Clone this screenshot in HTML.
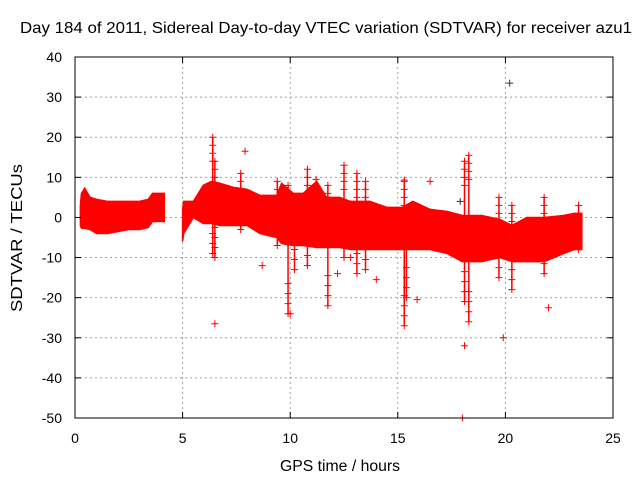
<!DOCTYPE html>
<html><head><meta charset="utf-8"><style>
body{margin:0;background:#fff}
svg text{font-family:"Liberation Sans",sans-serif;font-size:14px;fill:#000}
</style></head><body>
<svg id="chart" width="640" height="480" xmlns="http://www.w3.org/2000/svg">
<rect width="640" height="480" fill="#fff"/>
<g id="grid"></g>
<g id="data"></g>
<g id="axes"></g>
<text x="326" y="33" text-anchor="middle" textLength="612" lengthAdjust="spacingAndGlyphs" style="font-size:16px">Day 184 of 2011, Sidereal Day-to-day VTEC variation (SDTVAR) for receiver azu1</text>
<text x="340" y="471" text-anchor="middle" textLength="120" lengthAdjust="spacingAndGlyphs" style="font-size:15.5px">GPS time / hours</text>
<text x="0" y="0" text-anchor="middle" textLength="148" lengthAdjust="spacingAndGlyphs" transform="translate(22,238) rotate(-90)" style="font-size:15.5px">SDTVAR / TECUs</text>
</svg>
<script>
const xTicks=[0,5,10,15,20,25];
const yTicks=[40,30,20,10,0,-10,-20,-30,-40,-50];
const seg1T=[0.25,0.3,0.45,0.7,1.0,1.5,2.0,2.5,3.0,3.4,3.6,4.0,4.15];
const seg1Hi=[3,6,7.3,5,4.5,4,4,4,4,4.5,6,6,6];
const seg1Lo=[-2,-2.7,-2.7,-3,-4,-4,-3.5,-3,-3,-2.5,-1,-1,-1];
const seg2T=[5.0,5.05,5.5,5.96,6.35,6.74,7.36,8.0,8.6,9.37,9.6,10.14,10.6,11.23,11.69,12.3,12.8,13.7,14.5,15.2,15.7,16.5,17.3,18.0,18.9,19.75,20.3,21.0,21.8,22.7,23.2,23.55];
const seg2Hi=[2,4,4,8,9,8.5,7.5,7,5.5,5.5,8.5,6,6,9,5,5,4,4,2.5,2.5,4,2,1.5,0.5,0.5,-0.5,-2,0,0,0.5,1,1];
const seg2Lo=[-6,-4,0,-1.5,-1.5,-2,-2,-2,-4,-5,-6.5,-7,-7,-7.5,-7.5,-7.5,-8,-8,-8,-8,-8,-8,-9,-11,-11,-10,-11,-11,-11,-9,-8,-8];
const spikeT=[6.4,6.5,7.7,9.4,9.9,10.2,10.8,11.75,12.5,13.1,13.5,15.3,15.4,18.1,18.3,19.7,20.3,21.8,23.4];
const spikeHi=[20,14,11,9,8,5,12,8,13,11,9,9,2,14,15.5,5,3,5,3];
const spikeLo=[-9,-10,-3,-7,-24,-13,-12,-22,-10,-14,-13,-27,-20,-21,-26,-15,-18,-14,-8];
const outT=[6.5,7.9,8.7,12.2,14.0,15.9,18.0,18.1,19.9,22.0,10.0,11.2,12.8,15.3,16.5];
const outV=[-26.5,16.5,-12,-14,-15.5,-20.5,-50,-32,-30,-22.5,-24,9.5,-10,9.3,9];
const blackT=[17.9,20.2];
const blackV=[4,33.5];

const X0=75,X1=613,Y0=57,Y1=418;
const xs=t=>X0+(t-0)/(25-0)*(X1-X0);
const ys=v=>Y1-(v+50)/(40+50)*(Y1-Y0);
const NS='http://www.w3.org/2000/svg';
function mk(tag,parent,attrs){const e=document.createElementNS(NS,tag);for(const k in attrs)e.setAttribute(k,attrs[k]);parent.appendChild(e);return e;}
const grid=document.getElementById('grid'),data=document.getElementById('data'),axes=document.getElementById('axes');

xTicks.forEach(t=>{
  if(t>0&&t<25){const g=mk('line',grid,{x1:xs(t),x2:xs(t),y1:Y0,y2:Y1,stroke:'#a0a0a0','stroke-dasharray':'2,3'});
  
  }
  const a=mk('line',axes,{x1:xs(t),x2:xs(t),y1:Y1,y2:Y1-6,stroke:'#000'});
  
  
  const b=mk('line',axes,{x1:xs(t),x2:xs(t),y1:Y0,y2:Y0+6,stroke:'#000'});
  
  
  const l=mk('text',axes,{x:xs(t),y:Y1+25,'text-anchor':'middle'});l.textContent=t;
  
  
});
yTicks.forEach(v=>{
  if(v>-50&&v<40){const g=mk('line',grid,{x1:X0,x2:X1,y1:ys(v),y2:ys(v),stroke:'#a0a0a0','stroke-dasharray':'2,3'});
  
  }
  const a=mk('line',axes,{x1:X0,x2:X0+6,y1:ys(v),y2:ys(v),stroke:'#000'});
  
  
  const b=mk('line',axes,{x1:X1,x2:X1-6,y1:ys(v),y2:ys(v),stroke:'#000'});
  
  
  const l=mk('text',axes,{x:X0-13,y:ys(v)+5,'text-anchor':'end'});l.textContent=v;
  
  
});
const fr=mk('rect',axes,{x:X0,y:Y0,width:X1-X0,height:Y1-Y0,fill:'none',stroke:'#000'});



function band(T,H,L,name){
  let pts=T.map((t,i)=>xs(t)+','+ys(H[i]));
  for(let i=T.length-1;i>=0;i--)pts.push(xs(T[i])+','+ys(L[i]));
  const p=mk('polygon',data,{points:pts.join(' '),fill:'#ff0000',stroke:'#ff0000','stroke-width':1.5});
  
  
}
band(seg1T,seg1Hi,seg1Lo,'data-band-1');
band(seg2T,seg2Hi,seg2Lo,'data-band-2');
function plus(t,v,col,name){
  const g=mk('path',data,{d:`M${xs(t)-3.5},${ys(v)}h7M${xs(t)},${ys(v)-3.5}v7`,stroke:col,'stroke-width':1});
  
  
}
spikeT.forEach((t,i)=>{
  const l=mk('line',data,{x1:xs(t),x2:xs(t),y1:ys(spikeHi[i]),y2:ys(spikeLo[i]),stroke:'#ff0000','stroke-width':1.5});
  
  
  for(let k=0;k<4;k++){
    plus(t,spikeHi[i]-k*(spikeHi[i]>2?2:1),'#ff0000','spike-mark');
    plus(t,spikeLo[i]+k*2.5,'#ff0000','spike-mark');
  }
});
outT.forEach((t,i)=>plus(t,outV[i],'#ff0000','outlier-point'));
blackT.forEach((t,i)=>plus(t,blackV[i],'#333','outlier-point-dark'));
</script>
</body></html>
